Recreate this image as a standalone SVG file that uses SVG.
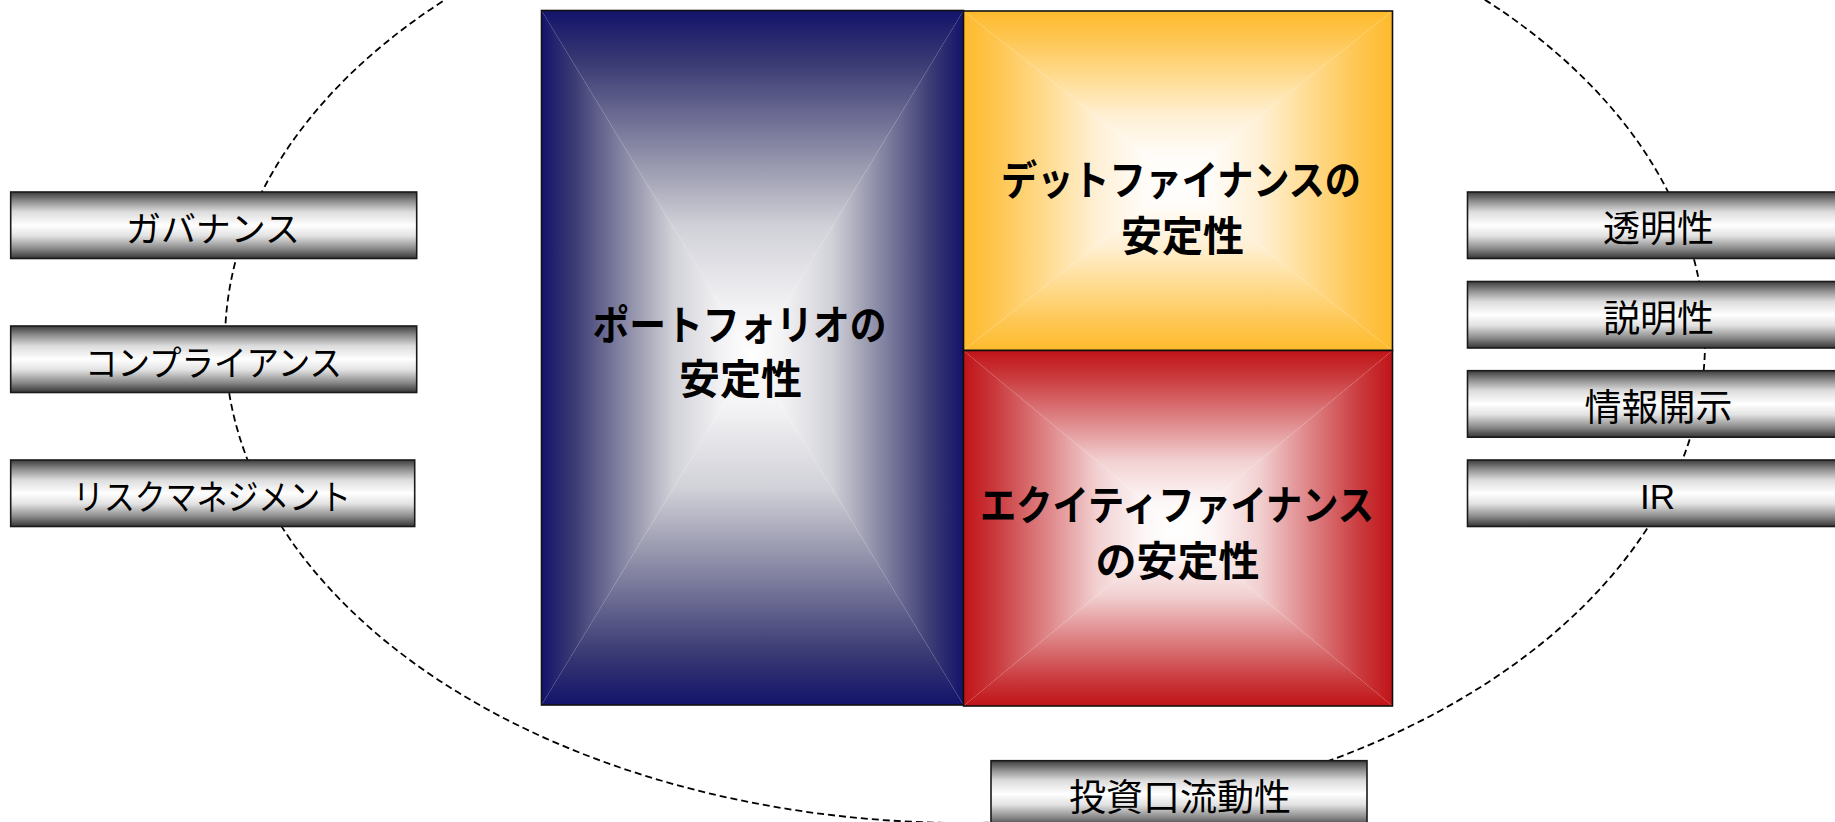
<svg xmlns="http://www.w3.org/2000/svg" width="1835" height="822" viewBox="0 0 1835 822">
<style>
.bar{stroke:#1a1a1a;stroke-width:1.6;fill:url(#barG)}
.bt{font-family:"Liberation Sans","Noto Sans CJK JP",sans-serif;font-size:35px;fill:#000;text-anchor:middle}
.big{font-family:"Liberation Sans","Noto Sans CJK JP",sans-serif;font-size:41px;font-weight:bold;fill:#000;text-anchor:middle}
.frame{fill:none;stroke:#111;stroke-width:1.6}
.ring{fill:none;stroke:#000;stroke-width:1.8;stroke-dasharray:7 4}
</style>
<defs>
<linearGradient id="barG" x1="0" y1="0" x2="0" y2="1">
<stop offset="0" stop-color="#3c3c3c"/>
<stop offset="0.14" stop-color="#8e8e8e"/>
<stop offset="0.3" stop-color="#dcdcdc"/>
<stop offset="0.5" stop-color="#ffffff"/>
<stop offset="0.66" stop-color="#e2e2e2"/>
<stop offset="0.85" stop-color="#8a8a8a"/>
<stop offset="1" stop-color="#363636"/>
</linearGradient>
<!-- navy -->
<linearGradient id="nT" x1="0" y1="0" x2="0" y2="1"><stop offset="0" stop-color="#13136b"/><stop offset="0.15" stop-color="#3a3a74"/><stop offset="0.47" stop-color="#a0a0b4"/><stop offset="0.62" stop-color="#d0d0d8"/><stop offset="0.85" stop-color="#f2f2f4"/><stop offset="1" stop-color="#ffffff"/></linearGradient>
<linearGradient id="nB" href="#nT" x1="0" y1="1" x2="0" y2="0"/>
<linearGradient id="nL" href="#nT" x1="0" y1="0" x2="1" y2="0"/>
<linearGradient id="nR" href="#nT" x1="1" y1="0" x2="0" y2="0"/>
<!-- yellow -->
<linearGradient id="yT" x1="0" y1="0" x2="0" y2="1"><stop offset="0" stop-color="#feba2c"/><stop offset="0.15" stop-color="#fec54e"/><stop offset="0.47" stop-color="#ffe3a8"/><stop offset="0.62" stop-color="#fff0d5"/><stop offset="0.85" stop-color="#fffcf8"/><stop offset="1" stop-color="#ffffff"/></linearGradient>
<linearGradient id="yB" href="#yT" x1="0" y1="1" x2="0" y2="0"/>
<linearGradient id="yL" href="#yT" x1="0" y1="0" x2="1" y2="0"/>
<linearGradient id="yR" href="#yT" x1="1" y1="0" x2="0" y2="0"/>
<!-- red -->
<linearGradient id="rT" x1="0" y1="0" x2="0" y2="1"><stop offset="0" stop-color="#c01418"/><stop offset="0.15" stop-color="#ca3a3d"/><stop offset="0.47" stop-color="#e59ea0"/><stop offset="0.62" stop-color="#f2d0d1"/><stop offset="0.85" stop-color="#fdf7f7"/><stop offset="1" stop-color="#ffffff"/></linearGradient>
<linearGradient id="rB" href="#rT" x1="0" y1="1" x2="0" y2="0"/>
<linearGradient id="rL" href="#rT" x1="0" y1="0" x2="1" y2="0"/>
<linearGradient id="rR" href="#rT" x1="1" y1="0" x2="0" y2="0"/>
</defs>
<rect width="1835" height="822" fill="#fff"/>
<g id="connectors">
<ellipse class="ring" cx="965" cy="342" rx="740" ry="481"/>
</g>
<g id="portfolio">
<polygon points="541.5,10.5 963.5,10.5 752.5,357.75" fill="url(#nT)"/>
<polygon points="541.5,705 963.5,705 752.5,357.75" fill="url(#nB)"/>
<polygon points="541.5,10.5 541.5,705 752.5,357.75" fill="url(#nL)"/>
<polygon points="963.5,10.5 963.5,705 752.5,357.75" fill="url(#nR)"/>
<rect class="frame" x="541.5" y="10.5" width="422" height="694.5"/>
<text class="big" x="739.5" y="339.5" textLength="294" lengthAdjust="spacingAndGlyphs">ポートフォリオの</text>
<text class="big" x="740.5" y="393.5">安定性</text>
</g>
<g id="debt">
<polygon points="963.5,11 1392.5,11 1178,180.75" fill="url(#yT)"/>
<polygon points="963.5,350.5 1392.5,350.5 1178,180.75" fill="url(#yB)"/>
<polygon points="963.5,11 963.5,350.5 1178,180.75" fill="url(#yL)"/>
<polygon points="1392.5,11 1392.5,350.5 1178,180.75" fill="url(#yR)"/>
<rect class="frame" x="963.5" y="11" width="429" height="339.5"/>
<text class="big" x="1181" y="194.5" textLength="360" lengthAdjust="spacingAndGlyphs">デットファイナンスの</text>
<text class="big" x="1182.5" y="250.5">安定性</text>
</g>
<g id="equity">
<polygon points="963.5,350.5 1392.5,350.5 1178,528.25" fill="url(#rT)"/>
<polygon points="963.5,706 1392.5,706 1178,528.25" fill="url(#rB)"/>
<polygon points="963.5,350.5 963.5,706 1178,528.25" fill="url(#rL)"/>
<polygon points="1392.5,350.5 1392.5,706 1178,528.25" fill="url(#rR)"/>
<rect class="frame" x="963.5" y="350.5" width="429" height="355.5"/>
<text class="big" x="1177" y="519.5" textLength="394" lengthAdjust="spacingAndGlyphs">エクイティファイナンス</text>
<text class="big" x="1177.5" y="576">の安定性</text>
</g>
<g id="governance">
<rect class="bar" x="10.7" y="192" width="406" height="66.5"/>
<text class="bt" x="213" y="242" textLength="174" lengthAdjust="spacingAndGlyphs">ガバナンス</text>
</g>
<g id="compliance">
<rect class="bar" x="10.7" y="326" width="406" height="66.5"/>
<text class="bt" x="213.5" y="376" textLength="257" lengthAdjust="spacingAndGlyphs">コンプライアンス</text>
</g>
<g id="risk">
<rect class="bar" x="10.7" y="460" width="404" height="66.5"/>
<text class="bt" x="212" y="510" textLength="278" lengthAdjust="spacingAndGlyphs">リスクマネジメント</text>
</g>
<g id="transparency">
<rect class="bar" x="1467.5" y="192" width="384" height="66.5"/>
<text class="bt" x="1658.5" y="242" style="font-size:37px">透明性</text>
</g>
<g id="accountability">
<rect class="bar" x="1467.5" y="281.5" width="384" height="66.5"/>
<text class="bt" x="1658.5" y="331.5" style="font-size:37px">説明性</text>
</g>
<g id="disclosure">
<rect class="bar" x="1467.5" y="370.7" width="384" height="66.5"/>
<text class="bt" x="1658.5" y="420.7" style="font-size:37px">情報開示</text>
</g>
<g id="ir">
<rect class="bar" x="1467.5" y="460" width="384" height="66.5"/>
<text class="bt" x="1657.5" y="508.5">IR</text>
</g>
<g id="liquidity">
<rect class="bar" x="991" y="760.7" width="376" height="66.5"/>
<text class="bt" x="1180" y="810.7" style="font-size:37px">投資口流動性</text>
</g>
</svg>
